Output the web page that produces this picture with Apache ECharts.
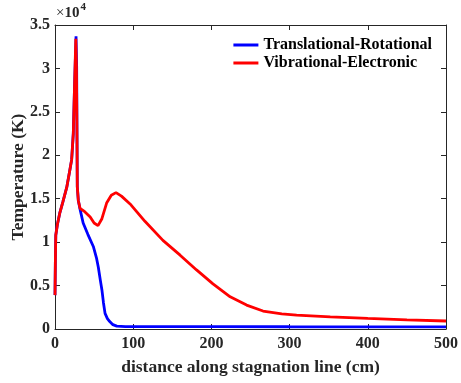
<!DOCTYPE html>
<html><head><meta charset="utf-8">
<script src="https://cdn.jsdelivr.net/npm/echarts@6/dist/echarts.min.js"></script>
<style>html,body{margin:0;padding:0;background:#fff}#c{width:461px;height:383px}</style>
</head><body><div id="c"></div>
<script>
const xTicks = [0, 100, 200, 300, 400, 500];
const yTickLabels = ['0', '0.5', '1', '1.5', '2', '2.5', '3', '3.5'];
const seriesNames = ['Translational-Rotational', 'Vibrational-Electronic'];

const trX = [0, 0.5, 1, 3, 6, 10, 15, 19, 21.3, 23.4, 25.1, 26.9, 27.7, 28.1, 28.5, 29.8, 32, 36, 42, 49, 53, 55.4, 58, 60, 62, 64, 67, 70, 74, 79, 90, 200, 300, 400, 500];
const trT = [3900, 8000, 10800, 12000, 13300, 14600, 16300, 18300, 19500, 22500, 28300, 33700, 30200, 22500, 16400, 14800, 13800, 12200, 10900, 9500, 8200, 7100, 5600, 4500, 3000, 1800, 1200, 850, 500, 330, 280, 270, 260, 255, 250];

const veX = [0, 0.5, 1, 3, 6, 10, 15, 19, 21.3, 23.4, 25.1, 26.6, 27.4, 28.1, 28.5, 29.8, 32, 38, 45, 50, 55, 60, 66, 72, 78, 85, 96, 115, 138, 160, 181, 202, 224, 245, 266, 290, 309, 352, 400, 450, 500];
const veT = [3900, 8000, 10800, 12000, 13300, 14600, 16300, 18300, 19500, 22500, 28300, 33400, 30200, 22500, 16400, 14800, 13900, 13500, 12900, 12200, 11900, 12700, 14500, 15400, 15700, 15300, 14400, 12400, 10200, 8500, 6800, 5200, 3700, 2750, 2070, 1750, 1600, 1400, 1220, 1050, 920];

const trData = trX.map((x, i) => [x, trT[i]]);
const veData = veX.map((x, i) => [x, veT[i]]);

const FONT = '"Liberation Serif", "Times New Roman", serif';
const AX = '#262626';
const chart = echarts.init(document.getElementById('c'));
const axisCommon = {
  axisLine: {show: true, onZero: false, lineStyle: {color: AX, width: 1}},
  axisTick: {show: true, inside: true, length: 5, lineStyle: {color: AX}},
  splitLine: {show: false}
};
chart.setOption({
  animation: false,
  grid: {left: 55, right: 15, top: 25, bottom: 54, containLabel: false, outerBoundsMode: 'none'},
  xAxis: [
    Object.assign({type: 'value', min: 0, max: 500, interval: 100, position: 'bottom',
      name: 'distance along stagnation line (cm)', nameLocation: 'middle', nameGap: 29, nameMoveOverlap: false,
      nameTextStyle: {fontFamily: FONT, fontWeight: 'bold', fontSize: 17.5, color: '#262626'},
      axisLabel: {fontFamily: FONT, fontWeight: 'bold', fontSize: 16, color: '#262626', margin: 7,
        formatter: v => xTicks.includes(v) ? String(v) : ''}}, axisCommon),
    Object.assign({type: 'value', min: 0, max: 500, interval: 100, position: 'top',
      axisLabel: {show: false}}, axisCommon)
  ],
  yAxis: [
    Object.assign({type: 'value', min: 0, max: 35000, interval: 5000, position: 'left',
      name: 'Temperature (K)', nameLocation: 'middle', nameGap: 28, nameRotate: 90, nameMoveOverlap: false,
      nameTextStyle: {fontFamily: FONT, fontWeight: 'bold', fontSize: 17.5, color: '#262626'},
      axisLabel: {fontFamily: FONT, fontWeight: 'bold', fontSize: 16, color: '#262626', margin: 5,
        formatter: v => yTickLabels[Math.round(v / 5000)]}}, axisCommon),
    Object.assign({type: 'value', min: 0, max: 35000, interval: 5000, position: 'right',
      axisLabel: {show: false}}, axisCommon)
  ],
  legend: {
    orient: 'vertical', right: 29, top: 37, itemGap: 2, itemWidth: 25, itemHeight: 3,
    icon: 'rect', padding: 0,
    textStyle: {fontFamily: FONT, fontWeight: 'bold', fontSize: 16, color: '#000', padding: [0, 0, 0, 0]},
    data: seriesNames
  },
  graphic: [{
    type: 'text', left: 56, top: 2,
    style: {
      text: '{a|×}{c|10}{b|4}',
      rich: {
        a: {fontFamily: FONT, fontSize: 15, fill: '#262626', verticalAlign: 'bottom'},
        c: {fontFamily: FONT, fontSize: 15, fontWeight: 'bold', fill: '#262626', verticalAlign: 'bottom'},
        b: {fontFamily: FONT, fontSize: 11, fontWeight: 'bold', fill: '#262626', verticalAlign: 'top', padding: [0, 0, 8, 1]}
      }
    }
  }],
  series: [
    {name: seriesNames[0], type: 'line', data: trData, showSymbol: false, symbol: 'none',
      lineStyle: {color: '#0000ff', width: 2.8}, itemStyle: {color: '#0000ff'}, z: 2},
    {name: seriesNames[1], type: 'line', data: veData, showSymbol: false, symbol: 'none',
      lineStyle: {color: '#ff0000', width: 2.8}, itemStyle: {color: '#ff0000'}, z: 3}
  ]
});
</script></body></html>
